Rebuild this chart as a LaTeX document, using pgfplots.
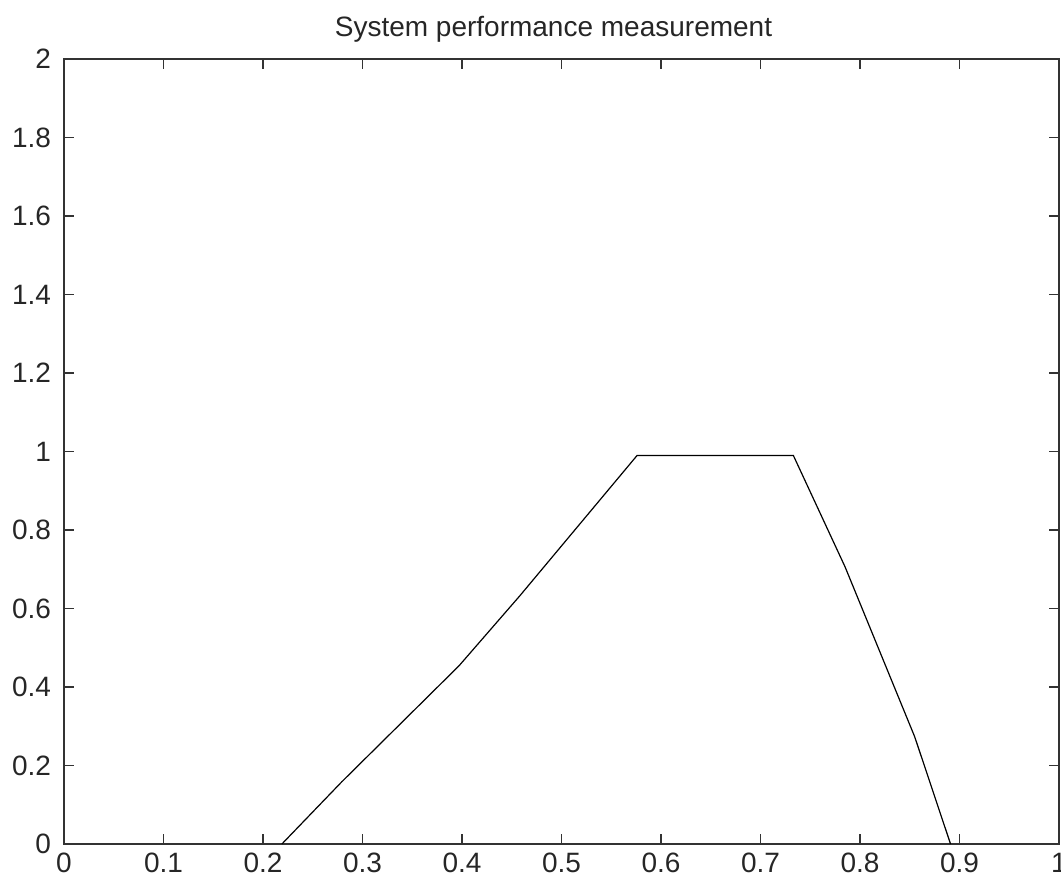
\documentclass[border=0pt]{standalone}
\usepackage{fontspec}
\setmainfont{Liberation Sans}
\usepackage{pgfplots}
\pgfplotsset{compat=1.18}
\begin{document}
\begin{tikzpicture}
\begin{axis}[
  name=ax,
  scale only axis,
  width=497.5pt, height=392.5pt,
  xmin=0, xmax=1, ymin=0, ymax=2,
  xtick={0,0.1,...,1.01},
  ytick={0,0.2,...,2.01},
  xticklabel style={/pgf/number format/fixed, /pgf/number format/precision=1, yshift=-1pt},
  yticklabel style={/pgf/number format/fixed, /pgf/number format/precision=1, xshift=-3pt},
  /pgf/number format/assume math mode=true,
  tick align=inside,
  major tick length=5pt,
  tick style={black!80, line width=0.6pt},
  axis line style={black!80, line width=0.7pt},
  ticklabel style={font=\fontsize{14}{16}\selectfont, text=black!85},
  title={System performance measurement},
  title style={font=\fontsize{14}{16}\selectfont, text=black!85, yshift=-1pt, xshift=-4pt},
]
\addplot[black, line width=0.6pt] coordinates {
  (0.219,0) (0.279,0.158) (0.397,0.454) (0.458,0.632) (0.576,0.99)
  (0.733,0.99) (0.785,0.706) (0.855,0.273) (0.891,0)
};
\end{axis}
\pgfresetboundingbox
\path ([xshift=-32pt,yshift=-20pt]ax.south west) rectangle ([xshift=1pt,yshift=29.5pt]ax.north east);
\end{tikzpicture}
\end{document}
